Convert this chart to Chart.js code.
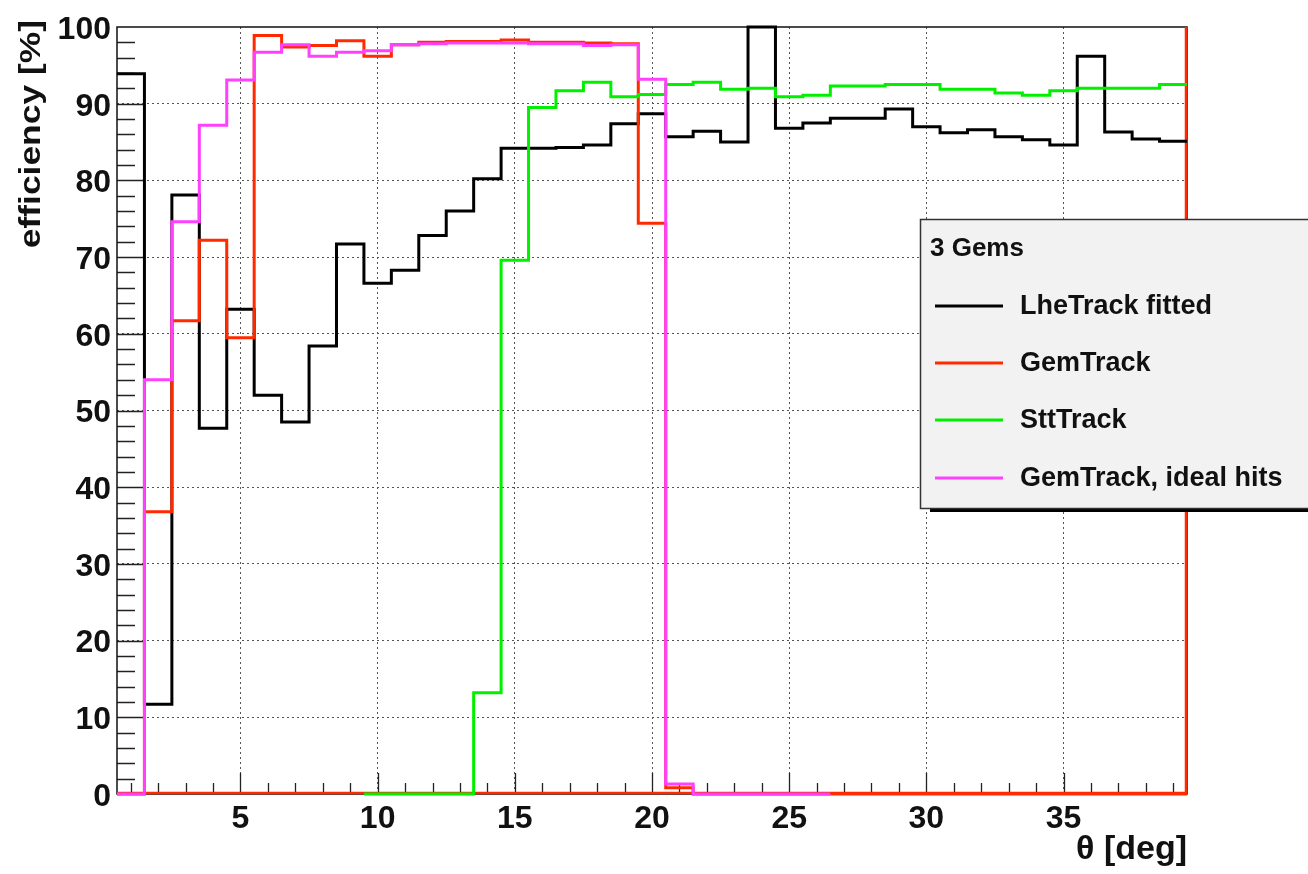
<!DOCTYPE html>
<html>
<head>
<meta charset="utf-8">
<title>Track efficiency vs theta</title>
<script src="https://cdn.jsdelivr.net/npm/chart.js@4.4.1/dist/chart.umd.min.js"></script>
<style>
  html, body { margin: 0; padding: 0; background: #ffffff; }
  #wrap { width: 1308px; height: 874px; position: relative; }
  canvas { display: block; }
</style>
</head>
<body>
<div id="wrap"><canvas id="eff" width="1308" height="874"></canvas></div>
<script>
// Bin centres of the theta histogram (deg), each bin 1 deg wide
const thetaBins = [1, 2, 3, 4, 5, 6, 7, 8, 9, 10, 11, 12, 13, 14, 15, 16, 17, 18, 19, 20,
                   21, 22, 23, 24, 25, 26, 27, 28, 29, 30, 31, 32, 33, 34, 35, 36, 37, 38, 39];
const binHalfWidth = 0.5;

// Efficiency [%] per bin
const lheTrackFitted = [93.9, 11.7, 78.1, 47.7, 63.2, 52.0, 48.5, 58.4, 71.7, 66.6,
                        68.3, 72.8, 76.0, 80.2, 84.2, 84.2, 84.3, 84.6, 87.4, 88.7,
                        85.7, 86.4, 85.0, 100.0, 86.8, 87.5, 88.1, 88.1, 89.3, 87.0,
                        86.2, 86.6, 85.7, 85.3, 84.6, 96.2, 86.3, 85.4, 85.1];
const gemTrack = [0, 36.8, 61.7, 72.2, 59.5, 98.9, 97.4, 97.6, 98.2, 96.2,
                  97.7, 98.0, 98.1, 98.1, 98.3, 98.0, 98.0, 97.9, 97.8, 74.4,
                  0.8, 0, 0, 0, 0, 0, 0, 0, 0, 0,
                  0, 0, 0, 0, 0, 0, 0, 0, 0];
const sttTrack = [null, null, null, null, null, null, null, null, null, 0,
                  0, 0, 0, 13.2, 69.6, 89.5, 91.7, 92.8, 90.9, 91.2,
                  92.5, 92.8, 91.9, 92.0, 90.9, 91.1, 92.3, 92.3, 92.5, 92.5,
                  91.9, 91.9, 91.4, 91.1, 91.7, 92.0, 92.0, 92.0, 92.5];
const gemTrackIdeal = [0, 54.0, 74.6, 87.2, 93.1, 96.7, 97.7, 96.2, 96.7, 96.9,
                       97.7, 97.8, 97.9, 97.9, 97.9, 97.8, 97.8, 97.6, 97.7, 93.2,
                       1.3, 0, 0, 0, 0, 0, null, null, null, null,
                       null, null, null, null, null, null, null, null, null];

const seriesNames = ['LheTrack fitted', 'GemTrack', 'SttTrack', 'GemTrack, ideal hits'];
const legendTitle = '3 Gems';
const yAxisTitle = 'efficiency [%]';
const xAxisTitle = 'θ [deg]';

const xTickValues = [5, 10, 15, 20, 25, 30, 35];
const yTickValues = [0, 10, 20, 30, 40, 50, 60, 70, 80, 90, 100];

// Turn per-bin values into the outline of a step histogram
function histOutline(values) {
  const pts = [];
  values.forEach((v, i) => {
    const c = thetaBins[i];
    if (v === null) { pts.push({x: c, y: null}); return; }
    pts.push({x: c - binHalfWidth, y: v}, {x: c + binHalfWidth, y: v});
  });
  return pts;
}

const FONT = "'Liberation Sans', Arial, Helvetica, sans-serif";
const colors = ['#000000', '#ff2a00', '#00f000', '#ff40ff'];

// Frame, inward tick marks, the red outline edges and the y title
const frameDecor = {
  id: 'frameDecor',
  beforeDatasetsDraw(chart) {
    const {ctx, chartArea: a, scales: {x, y}} = chart;
    ctx.save();
    ctx.strokeStyle = '#222';
    ctx.lineWidth = 1.3;
    ctx.beginPath();
    for (let v = 1; v <= 39; v++) {
      const px = Math.round(x.getPixelForValue(v)) + 0.5;
      const len = v % 5 === 0 ? 21 : 11;
      ctx.moveTo(px, a.bottom);
      ctx.lineTo(px, a.bottom - len);
    }
    for (let v = 2; v < 100; v += 2) {
      const py = Math.round(y.getPixelForValue(v)) + 0.5;
      const len = v % 10 === 0 ? 28 : 18;
      ctx.moveTo(a.left, py);
      ctx.lineTo(a.left + len, py);
    }
    ctx.stroke();

    // frame
    ctx.strokeStyle = '#111';
    ctx.lineWidth = 1.5;
    ctx.strokeRect(a.left, a.top, a.right - a.left, a.bottom - a.top);

    // red outline along the baseline and the right edge
    ctx.strokeStyle = colors[1];
    ctx.lineWidth = 2.5;
    ctx.beginPath();
    ctx.moveTo(a.left, a.bottom - 1);
    ctx.lineTo(a.right - 1, a.bottom - 1);
    ctx.lineTo(a.right - 1, a.top);
    ctx.stroke();

    // rotated y-axis title, right-aligned to the top of the axis
    ctx.fillStyle = '#111';
    ctx.font = 'bold 30px ' + FONT;
    ctx.textAlign = 'right';
    ctx.textBaseline = 'middle';
    ctx.translate(32, a.top - 7);
    ctx.rotate(-Math.PI / 2);
    ctx.scale(1.18, 1);
    ctx.fillText(yAxisTitle, 0, 0);
    ctx.restore();
  }
};

// Legend box with title and line samples
const legendBox = {
  id: 'legendBox',
  afterDatasetsDraw(chart) {
    const {ctx} = chart;
    const bx = 920, by = 219, bw = 420, bh = 289;
    ctx.save();
    ctx.fillStyle = '#000';
    ctx.fillRect(bx + 10, by + bh, bw, 4);
    ctx.fillStyle = '#f2f2f2';
    ctx.fillRect(bx, by, bw, bh);
    ctx.strokeStyle = '#333';
    ctx.lineWidth = 1.5;
    ctx.strokeRect(bx + 0.5, by + 0.5, bw, bh);

    ctx.fillStyle = '#111';
    ctx.textBaseline = 'middle';
    ctx.textAlign = 'left';
    ctx.font = 'bold 26px ' + FONT;
    ctx.fillText(legendTitle, bx + 10, by + 30);

    ctx.font = 'bold 27px ' + FONT;
    const rowY = [306, 363, 420, 478];
    seriesNames.forEach((name, i) => {
      ctx.strokeStyle = colors[i];
      ctx.lineWidth = 3;
      ctx.beginPath();
      ctx.moveTo(bx + 15, rowY[i]);
      ctx.lineTo(bx + 83, rowY[i]);
      ctx.stroke();
      ctx.fillStyle = '#111';
      ctx.fillText(name, bx + 100, rowY[i] + 1);
    });
    ctx.restore();
  }
};

const series = [lheTrackFitted, gemTrack, sttTrack, gemTrackIdeal];
// lower order is painted last: ideal hits on top, then SttTrack, GemTrack, LheTrack
const drawOrder = [4, 3, 2, 1];

new Chart(document.getElementById('eff'), {
  type: 'line',
  data: {
    datasets: series.map((vals, i) => ({
      label: seriesNames[i],
      data: histOutline(vals),
      borderColor: colors[i],
      borderWidth: 3,
      pointRadius: 0,
      tension: 0,
      fill: false,
      spanGaps: false,
      borderJoinStyle: 'miter',
      borderCapStyle: 'butt',
      clip: 3,
      order: drawOrder[i]
    }))
  },
  options: {
    responsive: false,
    animation: false,
    layout: { padding: { left: 0, top: 27, right: 121, bottom: 0 } },
    plugins: { legend: { display: false }, tooltip: { enabled: false } },
    scales: {
      x: {
        type: 'linear',
        min: 0.5,
        max: 39.5,
        afterFit(scale) { scale.height = 80; },
        afterBuildTicks(scale) { scale.ticks = xTickValues.map(v => ({value: v})); },
        grid: { drawTicks: false, color: '#555', lineWidth: 1 },
        border: { display: false, dash: [2, 3] },
        ticks: { color: '#111', padding: 6, font: { family: FONT, size: 32, weight: 'bold' } },
        title: {
          display: true, text: xAxisTitle, align: 'end', color: '#111',
          padding: { top: 0, bottom: 4 },
          font: { family: FONT, size: 34, weight: 'bold' }
        }
      },
      y: {
        type: 'linear',
        min: 0,
        max: 100,
        afterFit(scale) { scale.width = 117; },
        afterBuildTicks(scale) { scale.ticks = yTickValues.map(v => ({value: v})); },
        grid: {
          drawTicks: false, lineWidth: 1,
          color: (c) => (c.tick && (c.tick.value === 0 || c.tick.value === 100)) ? 'rgba(0,0,0,0)' : '#555'
        },
        border: { display: false, dash: [2, 3] },
        ticks: { color: '#111', padding: 6, labelOffset: 3, font: { family: FONT, size: 32, weight: 'bold' } },
        title: { display: false }
      }
    }
  },
  plugins: [frameDecor, legendBox]
});
</script>
</body>
</html>
